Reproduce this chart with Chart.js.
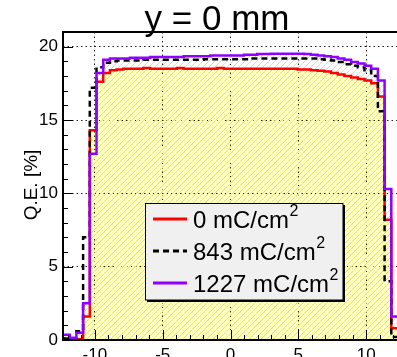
<!DOCTYPE html>
<html>
<head>
<meta charset="utf-8">
<script src="https://cdn.jsdelivr.net/npm/chart.js@4"></script>
<style>
  html, body { margin: 0; padding: 0; background: #fff; overflow: hidden; }
  canvas { display: block; }
</style>
</head>
<body>
<canvas id="c" width="400" height="357"></canvas>
<script>
// histogram range (mm), 50 bins
const X_MIN = -12.35;
const X_MAX = 12.35;

const SERIES_LABELS = ['0 mC/cm', '843 mC/cm', '1227 mC/cm'];

// Q.E. [%] per bin
const QE_0 = [
  0, 0, 0.05, 1.6, 14.3, 17.6, 18.2, 18.4, 18.45, 18.5,
  18.5, 18.5, 18.55, 18.5, 18.5, 18.5, 18.5, 18.55, 18.5, 18.5,
  18.5, 18.5, 18.5, 18.55, 18.5, 18.5, 18.5, 18.5, 18.5, 18.5,
  18.5, 18.5, 18.5, 18.5, 18.5, 18.45, 18.45, 18.4, 18.35, 18.3,
  18.2, 18.1, 18.0, 17.9, 17.8, 17.7, 17.5, 16.6, 8.2, 0.8
];
const QE_843 = [
  0.1, 0.05, 0.6, 7.0, 17.2, 18.6, 18.9, 19.0, 19.05, 19.05,
  19.05, 19.05, 19.1, 19.1, 19.1, 19.1, 19.1, 19.1, 19.1, 19.1,
  19.1, 19.15, 19.15, 19.15, 19.15, 19.15, 19.15, 19.15, 19.2, 19.2,
  19.2, 19.2, 19.2, 19.2, 19.2, 19.2, 19.2, 19.2, 19.15, 19.1,
  19.05, 18.95, 18.8, 18.7, 18.6, 18.4, 18.0, 15.6, 4.0, 0.2
];
const QE_1227 = [
  0.35, 0.15, 0.5, 2.5, 12.7, 18.2, 19.1, 19.2, 19.2, 19.2,
  19.25, 19.25, 19.25, 19.3, 19.3, 19.3, 19.3, 19.3, 19.35, 19.35,
  19.35, 19.35, 19.4, 19.4, 19.4, 19.4, 19.4, 19.45, 19.45, 19.5,
  19.5, 19.52, 19.52, 19.52, 19.52, 19.52, 19.5, 19.45, 19.4, 19.35,
  19.3, 19.2, 19.1, 18.95, 18.85, 18.7, 18.5, 17.7, 10.3, 1.6
];

const X_TICKS = [-10, -5, 0, 5, 10];
const Y_TICKS = [0, 5, 10, 15, 20];

const FONT = '"Liberation Sans", Arial, sans-serif';
const RED = '#ff0000';
const BLACK = '#000000';
const PURPLE = '#8f00ff';

function histPoints(vals) {
  const w = (X_MAX - X_MIN) / vals.length;
  const pts = vals.map((v, i) => ({ x: X_MIN + i * w, y: v }));
  pts.push({ x: X_MAX, y: vals[vals.length - 1] });
  return pts;
}

const mainCtx = document.getElementById('c').getContext('2d');

function makePattern(size, draw) {
  const pc = document.createElement('canvas');
  pc.width = size; pc.height = size;
  draw(pc.getContext('2d'), size);
  return mainCtx.createPattern(pc, 'repeat');
}

// yellow dots (under the 0 mC curve)
const dots = makePattern(4, (g) => {
  g.fillStyle = '#ffff70';
  g.fillRect(0, 0, 1, 1);
  g.fillRect(2, 2, 1, 1);
});
// light violet hatch (under the 1227 mC curve)
const hatch = makePattern(6, (g, s) => {
  g.strokeStyle = '#dcd3f3';
  g.lineWidth = 1;
  g.beginPath();
  g.moveTo(0, s); g.lineTo(s, 0);
  g.stroke();
});

const decor = {
  id: 'decor',
  afterDatasetsDraw(chart) {
    const { ctx, chartArea: a, scales: { x, y } } = chart;
    ctx.save();
    ctx.strokeStyle = '#000';
    ctx.lineWidth = 1;
    ctx.beginPath();
    for (let v = -12; v <= 12; v++) {
      const px = Math.round(x.getPixelForValue(v)) + 0.5;
      const len = v % 5 === 0 ? 10 : 5;
      ctx.moveTo(px, a.bottom); ctx.lineTo(px, a.bottom - len);
    }
    for (let v = 1; v <= 21; v++) {
      const py = Math.round(y.getPixelForValue(v)) + 0.5;
      const len = v % 5 === 0 ? 10 : 5;
      ctx.moveTo(a.left, py); ctx.lineTo(a.left + len, py);
    }
    ctx.stroke();
    ctx.lineWidth = 2;
    ctx.strokeRect(a.left, a.top, a.right - a.left, a.bottom - a.top);
    ctx.restore();
  },
  afterDraw(chart) {
    const { ctx } = chart;
    ctx.save();
    // title
    ctx.fillStyle = '#000';
    ctx.font = '35px ' + FONT;
    ctx.textAlign = 'center';
    ctx.textBaseline = 'alphabetic';
    ctx.fillText('y = 0 mm', 217, 30);

    // y axis title
    ctx.save();
    ctx.translate(37, 185);
    ctx.rotate(-Math.PI / 2);
    ctx.font = '19px ' + FONT;
    ctx.fillText('Q.E. [%]', 0, 0);
    ctx.restore();

    // legend box
    ctx.fillStyle = '#000';
    ctx.fillRect(147, 300, 198, 2);
    ctx.fillRect(343, 205, 2, 97);
    ctx.fillStyle = '#f0f0f0';
    ctx.fillRect(145, 203, 198, 97);
    ctx.strokeStyle = '#000';
    ctx.lineWidth = 1;
    ctx.strokeRect(145.5, 203.5, 197.5, 96.5);

    const rows = [219, 251, 283];
    chart.data.datasets.slice().reverse().forEach((ds, i) => {
      const yc = rows[i];
      ctx.strokeStyle = ds.borderColor;
      ctx.lineWidth = 3;
      ctx.setLineDash(ds.borderDash || []);
      ctx.beginPath();
      ctx.moveTo(153, yc); ctx.lineTo(187, yc);
      ctx.stroke();
      ctx.setLineDash([]);
      ctx.fillStyle = '#000';
      ctx.textAlign = 'left';
      ctx.font = '24px ' + FONT;
      ctx.fillText(ds.label, 193, yc + 9);
      const w = ctx.measureText(ds.label).width;
      ctx.font = '16px ' + FONT;
      ctx.fillText('2', 193 + w + 0.5, yc - 3);
    });
    ctx.restore();
  }
};

new Chart(mainCtx, {
  type: 'line',
  data: {
    datasets: [
      {
        label: SERIES_LABELS[2],
        data: histPoints(QE_1227),
        borderColor: PURPLE,
        backgroundColor: hatch,
        fill: 'origin',
        borderWidth: 2.5,
      },
      {
        label: SERIES_LABELS[1],
        data: histPoints(QE_843),
        borderColor: BLACK,
        borderDash: [6, 4],
        fill: false,
        borderWidth: 2.5,
      },
      {
        label: SERIES_LABELS[0],
        data: histPoints(QE_0),
        borderColor: RED,
        backgroundColor: dots,
        fill: 'origin',
        borderWidth: 2.5,
      },
    ],
  },
  options: {
    responsive: false,
    animation: false,
    layout: { padding: { top: 32, right: 2, left: 0, bottom: 0 } },
    elements: { point: { radius: 0 }, line: { stepped: true, tension: 0 } },
    plugins: {
      legend: { display: false },
      tooltip: { enabled: false },
      filler: { drawTime: 'beforeDatasetsDraw' },
    },
    scales: {
      x: {
        type: 'linear',
        min: X_MIN,
        max: X_MAX,
        afterBuildTicks: (s) => { s.ticks = X_TICKS.map(v => ({ value: v })); },
        afterFit: (s) => { s.height = 17; },
        ticks: { autoSkip: false, maxRotation: 0, padding: 5, color: '#000', font: { family: FONT, size: 17 } },
        grid: { color: '#222', lineWidth: 1, drawTicks: false },
        border: { display: false, dash: [1.5, 3] },
      },
      y: {
        min: 0,
        max: 21,
        afterBuildTicks: (s) => { s.ticks = Y_TICKS.map(v => ({ value: v })); },
        afterFit: (s) => { s.width = 63; },
        ticks: { padding: 5, color: '#000', font: { family: FONT, size: 17 } },
        grid: { color: '#222', lineWidth: 1, drawTicks: false },
        border: { display: false, dash: [1.5, 3] },
      },
    },
  },
  plugins: [decor],
});
</script>
</body>
</html>
